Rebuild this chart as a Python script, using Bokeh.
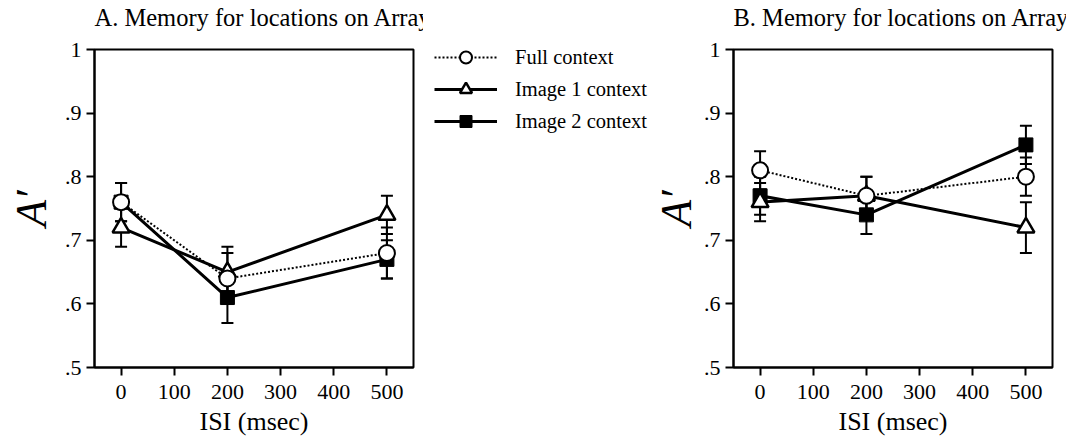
from bokeh.plotting import figure
from bokeh.layouts import row, column
from bokeh.models import (Range1d, ColumnDataSource, Whisker, TeeHead, Legend,
                          LegendItem, FixedTicker)
from bokeh.embed import file_html
from bokeh.resources import INLINE

# ---- data ----
isi = [0, 200, 500]
series_labels = ["Full context", "Image 1 context", "Image 2 context"]

a_full = [0.76, 0.64, 0.68]
a_full_err = [0.03, 0.04, 0.04]
a_img1 = [0.72, 0.65, 0.74]
a_img1_err = [0.03, 0.04, 0.03]
a_img2 = [0.76, 0.61, 0.67]
a_img2_err = [0.03, 0.04, 0.03]

b_full = [0.81, 0.77, 0.80]
b_full_err = [0.03, 0.03, 0.03]
b_img1 = [0.76, 0.77, 0.72]
b_img1_err = [0.03, 0.03, 0.04]
b_img2 = [0.77, 0.74, 0.85]
b_img2_err = [0.03, 0.03, 0.03]

x_ticks = [0, 100, 200, 300, 400, 500]
y_ticks = [0.5, 0.6, 0.7, 0.8, 0.9, 1.0]
y_tick_labels = [".5", ".6", ".7", ".8", ".9", "1"]

title_a = "A. Memory for locations on Array 1"
title_b = "B. Memory for locations on Array 2"

FONT = "Liberation Serif"

STYLES = [  # full, image1, image2
    dict(line=dict(line_width=2, line_color="black", line_dash="2 2"),
         mark=dict(marker="circle", size=16, fill_color="white",
                   line_color="black", line_width=2)),
    dict(line=dict(line_width=3, line_color="black"),
         mark=dict(marker="triangle", size=17, fill_color="white",
                   line_color="black", line_width=2.5)),
    dict(line=dict(line_width=3, line_color="black"),
         mark=dict(marker="square", size=14, fill_color="black",
                   line_color="black", line_width=1)),
]

STRIP_H = 36


def blank(width, height, **kw):
    f = figure(width=width, height=height, x_range=Range1d(1000, 1001),
               y_range=Range1d(1000, 1001), x_axis_type=None, y_axis_type=None,
               output_backend="svg", toolbar_location=None,
               outline_line_color=None, **kw)
    f.xgrid.visible = False
    f.ygrid.visible = False
    return f


def title_strip(text, width, left):
    t = blank(width, STRIP_H, min_border_left=left, min_border_top=0,
              min_border_bottom=0, min_border_right=0, title=text)
    t.title.text_font = FONT
    t.title.text_font_size = "24.5px"
    t.title.text_font_style = "normal"
    t.title.text_color = "black"
    t.title.vertical_align = "top"
    t.title.standoff = 6
    return t


def make_panel(full, full_err, img1, img1_err, img2, img2_err,
               left_border, right_border, ylab_standoff):
    p = figure(frame_width=319, frame_height=318,
               x_range=Range1d(-50, 550), y_range=Range1d(0.5, 1.0),
               output_backend="svg", toolbar_location=None,
               min_border_left=left_border, min_border_right=right_border,
               min_border_top=13, min_border_bottom=67)
    p.xgrid.visible = False
    p.ygrid.visible = False
    p.outline_line_color = "black"
    p.outline_line_width = 2
    p.outline_line_alpha = 1

    for ax in (p.xaxis[0], p.yaxis[0]):
        ax.axis_line_width = 2
        ax.major_tick_line_width = 2
        ax.major_tick_in = 0
        ax.major_tick_out = 8
        ax.minor_tick_line_color = None
        ax.major_label_text_font = FONT
        ax.major_label_text_font_size = "22px"
        ax.major_label_text_color = "black"
        ax.axis_label_text_font = FONT
        ax.axis_label_text_color = "black"
    p.xaxis.ticker = FixedTicker(ticks=x_ticks)
    p.yaxis.ticker = FixedTicker(ticks=y_ticks)
    p.yaxis.major_label_overrides = {t: l for t, l in zip(y_ticks, y_tick_labels)}
    p.xaxis.major_label_standoff = 9
    p.xaxis.axis_label = "ISI (msec)"
    p.xaxis.axis_label_text_font_size = "26px"
    p.xaxis.axis_label_text_font_style = "normal"
    p.xaxis.axis_label_standoff = 5
    p.yaxis.axis_label = "A\u2032"
    p.yaxis.axis_label_text_font_size = "44px"
    p.yaxis.axis_label_text_font_style = "italic"
    p.yaxis.axis_label_standoff = ylab_standoff

    # error bars
    for vals, errs in ((img2, img2_err), (img1, img1_err), (full, full_err)):
        src = ColumnDataSource(dict(x=isi,
                                    up=[v + e for v, e in zip(vals, errs)],
                                    lo=[v - e for v, e in zip(vals, errs)]))
        w = Whisker(source=src, base="x", upper="up", lower="lo",
                    line_width=2, line_color="black",
                    upper_head=TeeHead(size=12, line_width=2),
                    lower_head=TeeHead(size=12, line_width=2))
        p.add_layout(w)

    # lines then markers (circle on top)
    for vals, st in ((img2, STYLES[2]), (img1, STYLES[1]), (full, STYLES[0])):
        p.line(isi, vals, **st["line"])
    for vals, st in ((img2, STYLES[2]), (img1, STYLES[1]), (full, STYLES[0])):
        p.scatter(isi, vals, **st["mark"])
    return p


pA = make_panel(a_full, a_full_err, a_img1, a_img1_err, a_img2, a_img2_err,
                94, 10, 6)
pB = make_panel(b_full, b_full_err, b_img1, b_img1_err, b_img2, b_img2_err,
                83, 16, 0)

# legend-only figure between the panels (its renderers lie outside its ranges)
pL = blank(225, 434, min_border_left=11, min_border_top=42,
           min_border_right=0, min_border_bottom=0)
items = []
for lab, st, vals in zip(series_labels, STYLES, (a_full, a_img1, a_img2)):
    lr = pL.line(isi, vals, **st["line"])
    mr = pL.scatter(isi, vals, **st["mark"])
    items.append(LegendItem(label=lab, renderers=[lr, mr]))
leg = Legend(items=items, location="top_left",
             label_text_font=FONT, label_text_font_size="20.5px",
             label_text_color="black",
             glyph_width=63, glyph_height=30, label_standoff=18,
             spacing=2, padding=0, margin=0,
             border_line_color=None, background_fill_alpha=0)
pL.add_layout(leg, "center")

tA = title_strip(title_a, 423, 62)
tB = title_strip(title_b, 418, 53)

layout = row(column(tA, pA), pL, column(tB, pB))
open("out.html", "w").write(file_html(layout, INLINE))
